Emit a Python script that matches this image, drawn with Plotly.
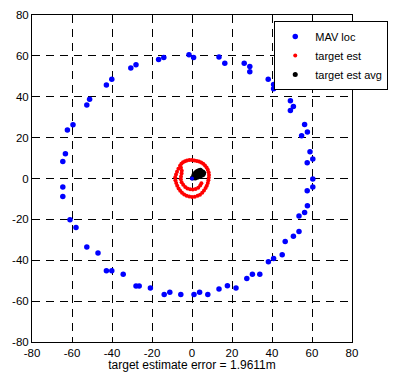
import plotly.graph_objects as go

# MAV locations
mav_x = [-1.5, 0.8, -16.7, -14.1, -30.6, -28.0, -42.8, -40.1, -52.6, -51.2, -62.3, -59.5,
         -64.6, -63.3, -64.6, -64.6, -61.0, -58.0, -52.6, -47.0, -42.8, -40.1, -34.4,
         -28.0, -26.4, -20.8, -13.9, -11.1, -5.6, 1.0, 3.8, 7.9, 13.5, 17.7, 22.0, 27.4,
         30.2, 33.9, 38.2, 40.8, 45.1, 46.6, 50.7, 53.5, 53.5, 56.3, 57.7, 57.6, 60.4,
         60.4, 13.5, 16.4, 26.1, 28.9, 28.9, 38.1, 40.8, 40.8, 49.2, 50.7, 49.2, 56.3,
         57.7, 54.8, 59.0, 60.4, 57.6]
mav_y = [60.5, 59.2, 58.2, 59.2, 54.1, 55.6, 45.8, 48.6, 36.0, 38.8, 23.7, 26.3,
         8.3, 12.1, -4.1, -8.8, -20.2, -24.0, -33.5, -36.5, -45.1, -45.1, -46.9,
         -52.6, -52.6, -53.6, -56.7, -55.7, -56.7, -56.7, -55.7, -56.7, -54.1, -52.5,
         -53.6, -48.9, -46.9, -46.9, -40.7, -39.1, -37.3, -30.8, -28.2, -25.9, -18.4,
         -16.6, -13.3, -6.0, -4.2, -0.3, 59.4, 56.4, 56.4, 54.8, 52.2, 48.6, 46.0, 43.9,
         38.0, 35.2, 33.3, 26.4, 22.8, 20.9, 13.1, 9.5, 7.7]

# target estimates (red)
est_x = [-6.0, -5.3, -4.5, -3.5, -2.5, -1.3, 0.0, 1.2, 2.4, 3.5, 4.6, 5.6, 6.5, 7.3, 7.9,
         8.3, 8.5, 8.4, 8.2, 7.9, 7.4, 6.8, 6.0, 5.1, 4.0, 2.8, 1.4, 0.0, -1.4, -2.7,
         -3.9, -5.0, -5.9, -6.7, -7.4, -7.9, -8.3, -8.4, -8.0, -7.5, -6.8,
         -5.5, -5.1, -5.2, -5.5, -5.6, -5.2, -4.4, -3.4, -2.3, -1.0, 0.4, 1.8, 3.1, 4.1, 4.7]
est_y = [6.2, 7.2, 8.0, 8.5, 8.8, 9.0, 9.0, 8.8, 8.6, 8.3, 7.8, 7.2, 6.4, 5.4, 4.3,
         3.0, 1.7, 0.4, -0.9, -2.2, -3.5, -4.7, -5.9, -7.0, -7.9, -8.5, -8.9, -9.0, -8.8, -8.4,
         -7.8, -7.0, -6.0, -4.9, -3.6, -2.2, -0.8, 0.6, 2.0, 3.3, 4.8,
         5.2, 3.8, 2.4, 1.0, -0.4, -1.8, -3.1, -4.2, -4.9, -5.3, -5.4, -5.1, -4.5, -3.4, -2.3]

# running average of estimates (black)
avg_x = [0.2, 0.8, 1.4, 2.0, 2.7, 3.4, 4.1, 4.8, 5.4, 5.8, 5.5, 4.8, 4.0, 3.2, 2.4, 1.6,
         1.0, 1.8, 2.6, 3.4, 4.2, 3.0, 4.0, 2.0, 5.0]
avg_y = [0.3, 0.9, 1.5, 2.0, 2.4, 2.8, 3.1, 3.3, 3.2, 2.7, 2.0, 1.6, 1.2, 0.9, 0.6, 0.3,
         1.8, 2.8, 3.4, 3.8, 4.0, 1.8, 2.2, 1.2, 2.5]

true_x = [0.0]
true_y = [0.0]

ticks = [-80, -60, -40, -20, 0, 20, 40, 60, 80]
xlabel = "target estimate error = 1.9611m"

FONT = "Liberation Sans, Arial, sans-serif"

fig = go.Figure()
fig.add_trace(go.Scatter(x=mav_x, y=mav_y, mode="markers", name="MAV loc",
                         marker=dict(color="#0000ff", size=5.5)))
fig.add_trace(go.Scatter(x=est_x, y=est_y, mode="markers", name="target est",
                         marker=dict(color="#ff0000", size=4)))
fig.add_trace(go.Scatter(x=avg_x, y=avg_y, mode="markers", name="target est avg",
                         marker=dict(color="#000000", size=5)))
fig.add_trace(go.Scatter(x=true_x, y=true_y, mode="markers", showlegend=False,
                         marker=dict(color="#0000ff", size=4)))

axis_common = dict(
    range=[-80, 80], tickvals=ticks, ticktext=[str(t) for t in ticks],
    showgrid=True, gridcolor="#000000", gridwidth=1, griddash="8px,6px",
    zeroline=False, showline=True, linecolor="#000000", linewidth=1, mirror=True,
    ticks="inside", ticklen=4, tickcolor="#000000", automargin=False,
    tickfont=dict(family=FONT, size=11.5, color="#000000"),
)

fig.update_layout(
    width=400, height=372,
    margin=dict(l=32, r=43, t=15, b=30),
    paper_bgcolor="white", plot_bgcolor="white",
    xaxis=dict(**axis_common,
               title=dict(text=xlabel, standoff=0,
                          font=dict(family=FONT, size=12, color="#000000"))),
    yaxis=dict(**axis_common),
    legend=dict(x=0.757, y=0.982, xanchor="left", yanchor="top",
                bgcolor="white", bordercolor="#000000", borderwidth=1,
                font=dict(family=FONT, size=11, color="#000000")),
    showlegend=True,
)

fig.write_html("out.html",
               config={"displayModeBar": False},
               post_script="document.body.style.margin='0';document.body.style.overflow='hidden';")
